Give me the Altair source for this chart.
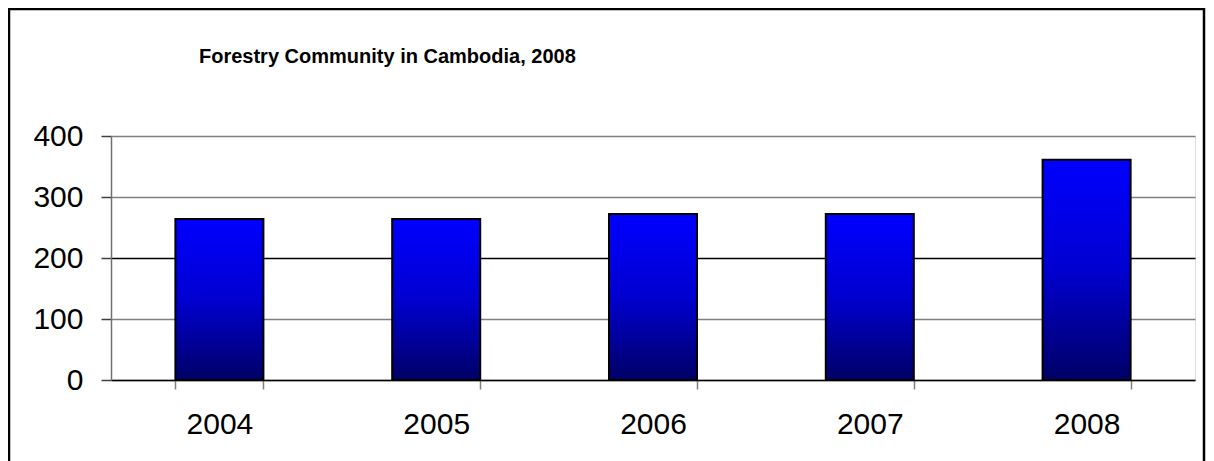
import altair as alt
import pandas as pd

years = ["2004", "2005", "2006", "2007", "2008"]
counts = [264, 264, 272, 272, 361]
title_text = "Forestry Community in Cambodia, 2008"

df = pd.DataFrame({"year": years, "count": counts})

W, H = 1084, 244
FONT = "Liberation Sans"

gradient = alt.LinearGradient(
    gradient="linear",
    stops=[alt.GradientStop(color="#0000FF", offset=0),
           alt.GradientStop(color="#0000D0", offset=0.5),
           alt.GradientStop(color="#000066", offset=1)],
    x1=0, x2=0, y1=0, y2=1,
)

bars = alt.Chart(df).mark_bar(
    fill=gradient, stroke="black", strokeWidth=2
).encode(
    x=alt.X("year:N", sort=years,
            scale=alt.Scale(paddingInner=0.594, paddingOuter=0.297),
            axis=alt.Axis(title=None, labelAngle=0, tickBand="extent",
                          labelFontSize=30, labelFont=FONT, labelColor="black",
                          labelPadding=20, tickSize=9, tickColor="#808080",
                          tickWidth=1.5, domainColor="black", domainWidth=1.5,
                          grid=False)),
    y=alt.Y("count:Q",
            scale=alt.Scale(domain=[0, 400], nice=False),
            axis=alt.Axis(title=None, values=[0, 100, 200, 300, 400],
                          labelFontSize=30, labelFont=FONT, labelColor="black",
                          labelPadding=18, tickSize=10, tickColor="#404040",
                          tickWidth=1.5, domainColor="#707070", domainWidth=1.5,
                          grid=True,
                          gridColor={"condition": {"test": "datum.value === 200", "value": "#000000"},
                                     "value": "#808080"},
                          gridWidth=1.5)),
)

title = alt.Chart(alt.Data(values=[{"t": title_text}])).mark_text(
    font=FONT, fontSize=20, fontWeight="bold", color="black",
    align="left", baseline="alphabetic"
).encode(
    x=alt.value(88), y=alt.value(-73), text="t:N"
)

border = alt.Chart(alt.Data(values=[{"a": 1}])).mark_rect(
    fill=None, stroke="black", strokeWidth=2.5
).encode(
    x=alt.value(-102), x2=alt.value(W + 9),
    y=alt.value(-127), y2=alt.value(H + 120),
)

chart = alt.layer(bars, title, border).properties(
    width=W, height=H,
    autosize=alt.AutoSizeParams(type="none"),
    padding={"left": 103, "top": 128, "right": 11, "bottom": 82},
).configure_view(
    stroke="#A0A0A0", strokeWidth=2
).configure(background="white")

chart.save("out.html", embed_options={"renderer": "svg", "actions": False})
